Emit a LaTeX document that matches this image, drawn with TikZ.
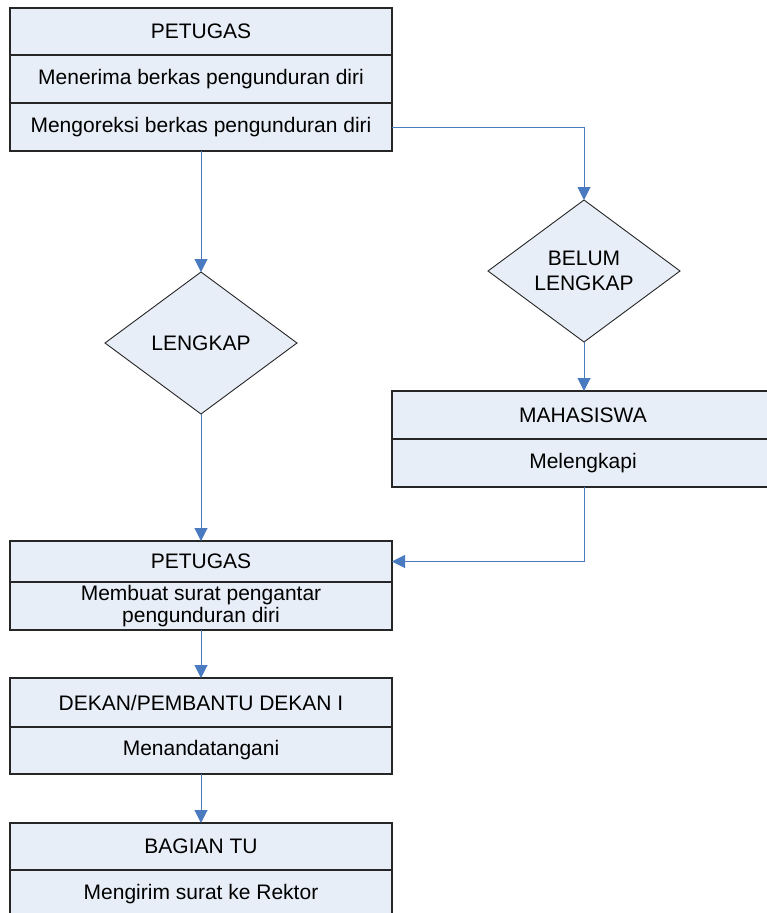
\documentclass[tikz,border=0pt]{standalone}
\usepackage{fontspec}
\setmainfont{Liberation Sans}
\usetikzlibrary{arrows.meta, positioning, shapes.geometric}

\definecolor{boxfill}{RGB}{232,238,247}
\definecolor{flowblue}{RGB}{74,122,192}

\begin{document}
\begin{tikzpicture}[x=1pt, y=-1pt, >={Triangle[length=13pt, width=13pt]},
		font=\fontsize{21}{25}\selectfont,
		row/.style={draw=black!85, line width=1.1pt, fill=boxfill, minimum width=382pt,
			minimum height=48pt, inner sep=0pt, outer sep=0pt, align=center},
		decision/.style={diamond, draw=black!85, line width=0.9pt, fill=boxfill,
			minimum width=192pt, minimum height=142pt, inner sep=0pt, outer sep=0pt, align=center},
		flow/.style={->, draw=flowblue, line width=1pt}]
		
		\useasboundingbox (0,0) rectangle (766,913);
		
		% --- 1. PETUGAS (receiving and checking) ---
		\node[row, anchor=north west, minimum height=47pt] (petugas) at (10,8) {PETUGAS};
		\node[row, below=0pt of petugas] (terima) {Menerima berkas pengunduran diri};
		\node[row, below=0pt of terima] (koreksi) {Mengoreksi berkas pengunduran diri};
		
		% --- 2. The two decisions ---
		\node[decision] (lengkap) at (201,343) {LENGKAP};
		\node[decision] (belum) at (584,271) {BELUM\\LENGKAP};
		
		% --- 3. MAHASISWA (completing the file) ---
		\node[row, anchor=north west] (mahasiswa) at (392,391) {MAHASISWA};
		\node[row, below=0pt of mahasiswa] (melengkapi) {Melengkapi};
		
		% --- 4. PETUGAS (cover letter) ---
		\node[row, anchor=north west, minimum height=41pt] (petugasdua) at (10,541) {PETUGAS};
		\node[row, below=0pt of petugasdua, font=\fontsize{21}{22}\selectfont] (surat)
			{Membuat surat pengantar\\pengunduran diri};
		
		% --- 5. DEKAN and BAGIAN TU ---
		\node[row, anchor=north west, minimum height=49pt] (dekan) at (10,678) {DEKAN/PEMBANTU DEKAN I};
		\node[row, below=0pt of dekan, minimum height=47pt] (tanda) {Menandatangani};
		\node[row, anchor=north west, minimum height=47pt] (bagian) at (10,823) {BAGIAN TU};
		\node[row, below=0pt of bagian] (kirim) {Mengirim surat ke Rektor};
		
		% --- 6. Connectors ---
		\draw[flow] (koreksi.south) -- (lengkap.north);
		\draw[flow] (koreksi.east) -| (belum.north);
		\draw[flow] (belum.south) -- (belum.south |- mahasiswa.north);
		\draw[flow] (lengkap.south) -- (lengkap.south |- petugasdua.north);
		\draw[flow] (belum.south |- melengkapi.south) |- (petugasdua.east);
		\draw[flow] (surat.south) -- (dekan.north);
		\draw[flow] (tanda.south) -- (bagian.north);
		
	\end{tikzpicture}
\end{document}
